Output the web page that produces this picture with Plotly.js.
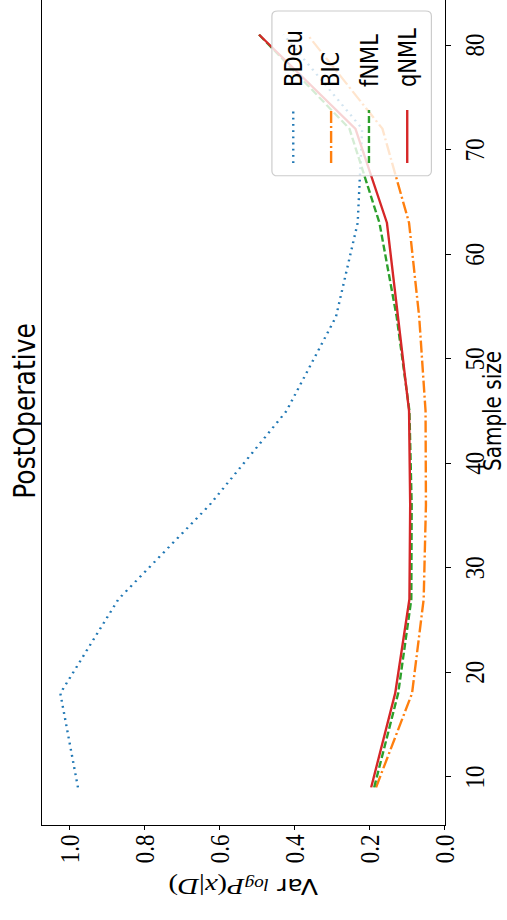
<!DOCTYPE html>
<html>
<head>
<meta charset="utf-8">
<script src="https://cdn.plot.ly/plotly-3.0.1.min.js"></script>
<style>
html,body{margin:0;padding:0;background:#fff;overflow:hidden;width:507px;height:920px;}
#wrap{position:absolute;left:0;top:920px;width:925px;height:423px;transform-origin:0 0;transform:rotate(-90deg) scale(1,1.1986);}
</style>
</head>
<body>
<div id="wrap"><div id="plot"></div></div>
<script>
const sampleSize = [9, 18, 27, 36, 45, 54, 63, 72, 81];
const seriesNames = ["BDeu", "BIC", "fNML", "qNML"];
const bdeu = [0.978, 1.025, 0.870, 0.627, 0.422, 0.290, 0.232, 0.220, 0.430];
const bic  = [0.183, 0.087, 0.056, 0.050, 0.051, 0.068, 0.095, 0.166, 0.366];
const fnml = [0.188, 0.124, 0.089, 0.088, 0.094, 0.128, 0.174, 0.254, 0.495];
const qnml = [0.196, 0.132, 0.094, 0.092, 0.095, 0.124, 0.154, 0.238, 0.495];
const xTicks = [10, 20, 30, 40, 50, 60, 70, 80];
const yTicks = [0.0, 0.2, 0.4, 0.6, 0.8, 1.0];

const colors = ["#1f77b4", "#ff7f0e", "#2ca02c", "#d62728"];
const dashes = ["1.8px,4.4px", "12px,3px,2px,3px", "7px,3px", "solid"];
const values = [bdeu, bic, fnml, qnml];

const traces = values.map((v, i) => ({
  x: sampleSize, y: v, type: "scatter", mode: "lines", name: seriesNames[i],
  showlegend: false,
  line: {color: colors[i], width: 2, dash: dashes[i]}
}));

// legend (matplotlib-style box, built in paper coordinates)
const lg = {x0: 0.784, x1: 0.983, y0: 0.033, y1: 0.429, rx: 0.006, ry: 0.015};
const entryY = [0.376, 0.282, 0.188, 0.093];
const handleX = [0.7995, 0.8635];
const textX = 0.889;
const boxPath = `M${lg.x0 + lg.rx},${lg.y0} L${lg.x1 - lg.rx},${lg.y0} Q${lg.x1},${lg.y0} ${lg.x1},${lg.y0 + lg.ry} ` +
  `L${lg.x1},${lg.y1 - lg.ry} Q${lg.x1},${lg.y1} ${lg.x1 - lg.rx},${lg.y1} L${lg.x0 + lg.rx},${lg.y1} ` +
  `Q${lg.x0},${lg.y1} ${lg.x0},${lg.y1 - lg.ry} L${lg.x0},${lg.y0 + lg.ry} Q${lg.x0},${lg.y0} ${lg.x0 + lg.rx},${lg.y0} Z`;
const shapes = [{type: "path", xref: "paper", yref: "paper", path: boxPath, layer: "above",
                 fillcolor: "rgba(255,255,255,0.8)", line: {color: "#cccccc", width: 1}}];
const annotations = [];
seriesNames.forEach((n, i) => {
  shapes.push({type: "line", xref: "paper", yref: "paper", layer: "above", x0: handleX[0], x1: handleX[1],
               y0: entryY[i], y1: entryY[i], line: {color: colors[i], width: 2, dash: dashes[i]}});
  annotations.push({xref: "paper", yref: "paper", x: textX, y: entryY[i], xanchor: "left", yanchor: "middle",
                    text: n, showarrow: false, font: {size: 21, family: "DejaVu Sans", color: "#000"}});
});

const tickFont = {family: "Liberation Serif, serif", size: 23, color: "#000"};
const layout = {
  width: 925, height: 423,
  margin: {l: 95, r: 2, t: 35, b: 52},
  paper_bgcolor: "#fff", plot_bgcolor: "#fff",
  font: {family: "DejaVu Sans, sans-serif", color: "#000"},
  title: {text: "PostOperative", font: {size: 25, family: "DejaVu Sans"}, x: 0.5, xref: "paper", xanchor: "center",
          y: 1, yref: "paper", yanchor: "bottom", pad: {b: 6}},
  xaxis: {range: [5.4, 84.6], tickvals: xTicks, ticktext: xTicks.map(String), ticks: "outside", ticklen: 4, tickwidth: 1,
          tickcolor: "#000", showline: true, linecolor: "#000", linewidth: 1, mirror: true, showgrid: false, zeroline: false,
          tickfont: tickFont,
          title: {text: "Sample size", font: {size: 20, family: "DejaVu Sans"}, standoff: 5}},
  yaxis: {range: [0, 1.074], tickvals: yTicks, ticktext: yTicks.map(v => v.toFixed(1)), ticks: "outside", ticklen: 4, tickwidth: 1,
          tickcolor: "#000", showline: true, linecolor: "#000", linewidth: 1, mirror: true, showgrid: false, zeroline: false,
          tickfont: tickFont,
          title: {text: "Var <span style='font-family:Liberation Serif;font-style:italic;font-size:16px'>log</span><span style='font-family:Liberation Serif;font-size:24px'><i>P</i>(<i>x</i>|<i>D</i>)</span>",
                  font: {size: 21, family: "DejaVu Sans"}, standoff: 9}},
  shapes: shapes,
  annotations: annotations,
  showlegend: false
};
Plotly.newPlot("plot", traces, layout, {displayModeBar: false, staticPlot: true});
</script>
</body>
</html>
